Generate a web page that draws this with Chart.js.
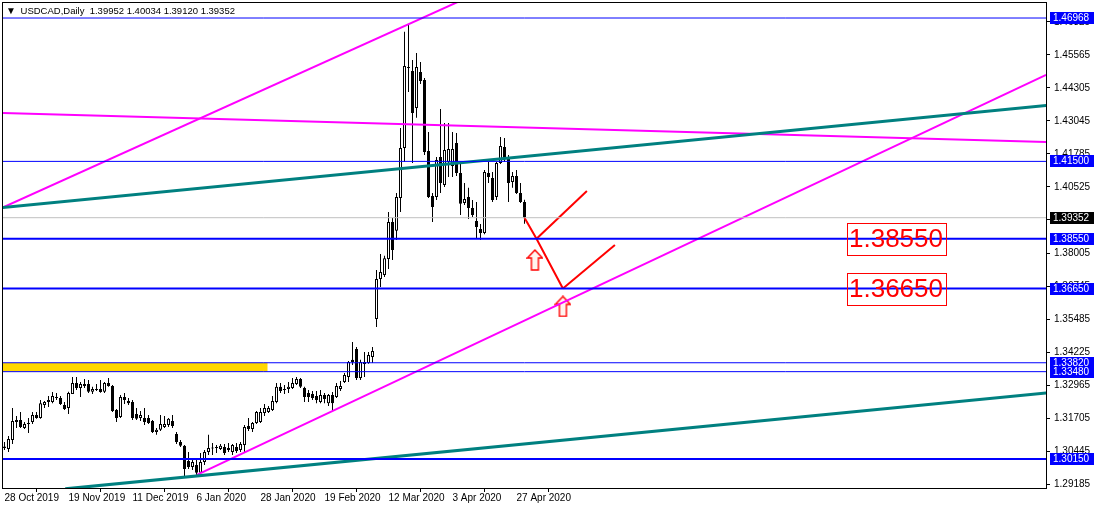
<!DOCTYPE html>
<html>
<head>
<meta charset="utf-8">
<title>USDCAD Daily</title>
<script src="https://cdn.jsdelivr.net/npm/chart.js@4.4.1/dist/chart.umd.min.js"></script>
<style>
  html, body { margin: 0; padding: 0; background: #fff; }
  #wrap { position: relative; width: 1094px; height: 508px; }
  #title { position: absolute; left: 6px; top: 5px; font: 9.5px "Liberation Sans", Arial, sans-serif; color: #000; white-space: pre; }
  #title b { font-weight: normal; font-size: 10px; margin-right: 2px; }
</style>
</head>
<body>
<div id="wrap">
  <canvas id="chart" width="1094" height="508"></canvas>
  <div id="title"><b>▼</b> USDCAD,Daily  1.39952 1.40034 1.39120 1.39352</div>
</div>
<script>
// daily candles, 28 Oct 2019 .. 29 Apr 2020 (bar index 0..130)
const opens = [
  1.3063,1.3053,1.3087,1.3164,1.3164,1.3133,1.3148,1.3156,1.3183,1.3171,
  1.3221,1.3232,1.3232,1.3251,1.3248,1.3221,1.3209,1.3263,1.3305,1.3286,
  1.3301,1.3301,1.3271,1.3282,1.3282,1.3271,1.3305,1.3293,1.3202,1.3175,
  1.3251,1.3236,1.3232,1.3187,1.3171,1.3171,1.3171,1.3160,1.3118,1.3126,
  1.3137,1.3145,1.3160,1.3110,1.3080,1.3065,1.3007,1.2984,1.2992,1.2962,
  1.3003,1.3042,1.3055,1.3057,1.3053,1.3061,1.3057,1.3042,1.3061,1.3049,
  1.3068,1.3141,1.3129,1.3152,1.3156,1.3190,1.3194,1.3202,1.3232,1.3290,
  1.3278,1.3282,1.3286,1.3301,1.3320,1.3286,1.3267,1.3263,1.3255,1.3232,
  1.3259,1.3228,1.3259,1.3251,1.3282,1.3309,1.3328,1.3393,1.3434,1.3324,
  1.3377,1.3381,1.3404,1.3549,1.3701,1.3717,1.3778,1.3919,1.3885,1.4010,
  1.4201,1.4510,1.4495,1.4354,1.4491,1.4460,1.4190,1.4018,1.4014,1.4167,
  1.4060,1.4148,1.4132,1.4220,1.4106,1.3991,1.4014,1.3972,1.3923,1.3892,
  1.3877,1.4106,1.4087,1.4014,1.4144,1.4205,1.4159,1.4071,1.4094,1.4029,
  1.39952
];
const highs = [
  1.3080,1.3103,1.3209,1.3179,1.3194,1.3156,1.3171,1.3194,1.3194,1.3240,
  1.3236,1.3255,1.3270,1.3267,1.3255,1.3232,1.3271,1.3328,1.3328,1.3309,
  1.3320,1.3316,1.3290,1.3301,1.3316,1.3309,1.3324,1.3297,1.3206,1.3259,
  1.3267,1.3248,1.3240,1.3209,1.3198,1.3209,1.3183,1.3164,1.3133,1.3183,
  1.3179,1.3171,1.3183,1.3118,1.3087,1.3068,1.3042,1.3011,1.3011,1.3038,
  1.3049,1.3107,1.3076,1.3068,1.3072,1.3072,1.3076,1.3072,1.3076,1.3080,
  1.3145,1.3171,1.3156,1.3198,1.3209,1.3225,1.3217,1.3255,1.3305,1.3305,
  1.3297,1.3309,1.3324,1.3328,1.3324,1.3290,1.3278,1.3274,1.3274,1.3278,
  1.3267,1.3263,1.3270,1.3305,1.3312,1.3343,1.3389,1.3461,1.3442,1.3393,
  1.3423,1.3423,1.3442,1.3736,1.3797,1.3790,1.3957,1.3934,1.4029,1.4277,
  1.4644,1.4670,1.4537,1.4563,1.4529,1.4468,1.4262,1.4029,1.4167,1.4350,
  1.4296,1.4296,1.4262,1.4258,1.4144,1.4068,1.4049,1.4003,1.3995,1.3911,
  1.4117,1.4148,1.4110,1.4148,1.4243,1.4239,1.4174,1.4110,1.4117,1.4068,
  1.40034
];
const lows = [
  1.3049,1.3042,1.3072,1.3133,1.3133,1.3129,1.3114,1.3148,1.3168,1.3168,
  1.3209,1.3213,1.3228,1.3240,1.3221,1.3202,1.3187,1.3263,1.3278,1.3251,
  1.3286,1.3267,1.3263,1.3274,1.3268,1.3267,1.3290,1.3194,1.3156,1.3171,
  1.3225,1.3221,1.3164,1.3164,1.3160,1.3145,1.3148,1.3114,1.3107,1.3122,
  1.3133,1.3137,1.3133,1.3072,1.3061,1.2950,1.2977,1.2973,1.2954,1.2958,
  1.2992,1.3030,1.3030,1.3038,1.3049,1.3030,1.3042,1.3030,1.3038,1.3042,
  1.3038,1.3122,1.3118,1.3148,1.3152,1.3179,1.3190,1.3198,1.3228,1.3267,
  1.3263,1.3267,1.3282,1.3297,1.3286,1.3232,1.3232,1.3240,1.3228,1.3228,
  1.3228,1.3217,1.3198,1.3248,1.3274,1.3305,1.3309,1.3373,1.3316,1.3316,
  1.3328,1.3378,1.3381,1.3518,1.3671,1.3709,1.3740,1.3774,1.3850,1.3957,
  1.4148,1.4415,1.4144,1.4316,1.4445,1.4174,1.4010,1.3919,1.4003,1.4029,
  1.4052,1.4090,1.4090,1.4094,1.3946,1.3984,1.3930,1.3938,1.3854,1.3850,
  1.3872,1.4068,1.3995,1.4003,1.4140,1.4148,1.3995,1.4049,1.4026,1.3991,
  1.39120
];
const closes = [
  1.3057,1.3091,1.3160,1.3156,1.3137,1.3148,1.3152,1.3183,1.3171,1.3228,
  1.3232,1.3240,1.3255,1.3248,1.3225,1.3206,1.3267,1.3305,1.3286,1.3301,
  1.3293,1.3271,1.3282,1.3278,1.3270,1.3305,1.3293,1.3198,1.3171,1.3251,
  1.3240,1.3228,1.3171,1.3168,1.3183,1.3156,1.3152,1.3118,1.3126,1.3148,
  1.3148,1.3168,1.3141,1.3080,1.3065,1.2977,1.2984,1.3003,1.2962,1.3003,
  1.3042,1.3057,1.3058,1.3060,1.3065,1.3038,1.3049,1.3068,1.3045,1.3072,
  1.3137,1.3129,1.3152,1.3194,1.3194,1.3209,1.3209,1.3236,1.3290,1.3274,
  1.3282,1.3290,1.3305,1.3320,1.3290,1.3251,1.3251,1.3248,1.3240,1.3259,
  1.3244,1.3259,1.3228,1.3293,1.3293,1.3335,1.3385,1.3385,1.3324,1.3385,
  1.3385,1.3412,1.3427,1.3701,1.3728,1.3781,1.3919,1.3812,1.4014,1.4201,
  1.4514,1.4506,1.4335,1.4510,1.4457,1.4186,1.4014,1.3976,1.4155,1.4068,
  1.4193,1.4197,1.4197,1.4106,1.3988,1.4007,1.3972,1.3946,1.3900,1.3877,
  1.4110,1.4090,1.4003,1.4144,1.4209,1.4159,1.4068,1.4094,1.4029,1.3995,
  1.39352
];

const dateLabels = ['28 Oct 2019','19 Nov 2019','11 Dec 2019','6 Jan 2020','28 Jan 2020',
                    '19 Feb 2020','12 Mar 2020','3 Apr 2020','27 Apr 2020'];
const dateBars = [0, 16, 32, 48, 64, 80, 96, 112, 128];

const priceTicks = [1.46825,1.45565,1.44305,1.43045,1.41785,1.40525,1.39265,1.38005,
                    1.36745,1.35485,1.34225,1.32965,1.31705,1.30445,1.29185];

// horizontal levels
const levels = [1.46968, 1.41500, 1.38550, 1.36650, 1.33820, 1.33480, 1.30150];
const thickLevels = [1.38550, 1.36650, 1.30150];
const bigLabelLevels = [1.38550, 1.36650];
const lastPrice = 1.39352;

// supply zone (bars, prices)
const zoneBars = [-1, 65.75];
const zonePrices = [1.33480, 1.33820];

// trend lines: [bar1, price1, bar2, price2]
const magentaLines = [
  [-0.6, 1.3973, 130, 1.4873],
  [48.1, 1.2954, 260.4, 1.4480],
  [-0.6, 1.4335, 260.4, 1.4224]
];
const tealLines = [
  [-0.6, 1.3974, 260.4, 1.4363],
  [15.2, 1.2901, 260.4, 1.3267]
];
// projected path
const projBars = [130, 133, 139.6];
const projPrices = [1.39352, 1.38550, 1.36650];
const branchLines = [
  [133, 1.38550, 145.6, 1.4037],
  [139.6, 1.36650, 152.6, 1.3831]
];
const arrowBars = [132.6, 139.6];
const arrowPrices = [1.3774, 1.3597];

// chart frame
const xMin = -0.375, xMax = 260.375;
const yMin = 1.29043, yMax = 1.47541;
const FONT = '"Liberation Sans", Arial, sans-serif';

function seg(l) { return [{x: l[0], y: l[1]}, {x: l[2], y: l[3]}]; }
function lineDs(data, color, width) {
  return { type: 'line', data, borderColor: color, borderWidth: width, pointRadius: 0,
           fill: false, tension: 0, order: 0 };
}

// up arrow marker
const arrowImg = document.createElement('canvas');
arrowImg.width = 17; arrowImg.height = 22;
(function () {
  const c = arrowImg.getContext('2d');
  c.beginPath();
  c.moveTo(8.5, 1); c.lineTo(16, 9); c.lineTo(12, 9); c.lineTo(12, 21);
  c.lineTo(5, 21); c.lineTo(5, 9); c.lineTo(1, 9); c.closePath();
  c.fillStyle = '#fff4f0'; c.fill();
  c.strokeStyle = '#ff0000'; c.lineWidth = 1.4; c.stroke();
})();

const idx = closes.map((_, i) => i);
const isUp = i => closes[i] >= opens[i];

const datasets = [
  { type: 'bar', data: idx.map(i => ({x: i, y: [lows[i], highs[i]]})),
    backgroundColor: '#000', barThickness: 1, grouped: false, inflateAmount: 0, order: 3 },
  { type: 'bar', data: idx.map(i => ({x: i, y: [opens[i], closes[i]]})),
    backgroundColor: c => isUp(c.dataIndex) ? '#fff' : '#000',
    borderColor: '#000', borderWidth: 1, borderSkipped: false, minBarLength: 1,
    barThickness: 3, grouped: false, inflateAmount: 0, order: 2 }
];
datasets.push(lineDs([{x: xMin, y: lastPrice}, {x: xMax, y: lastPrice}], '#c0c0c0', 1));
levels.forEach(v => datasets.push(lineDs([{x: xMin, y: v}, {x: xMax, y: v}], '#0000ff',
  thickLevels.includes(v) ? 2 : 1)));
tealLines.forEach(l => datasets.push(lineDs(seg(l), '#008080', 3)));
magentaLines.forEach(l => datasets.push(lineDs(seg(l), '#ff00ff', 2)));
datasets.push(lineDs(projBars.map((b, i) => ({x: b, y: projPrices[i]})), '#ff0000', 2));
branchLines.forEach(l => datasets.push(lineDs(seg(l), '#ff0000', 2)));
datasets.push({ type: 'line', data: arrowBars.map((b, i) => ({x: b, y: arrowPrices[i]})),
  showLine: false, pointStyle: arrowImg, pointRadius: 10, order: 0 });

const overlay = {
  id: 'overlay',
  beforeDatasetsDraw(chart) {
    const {ctx, chartArea: a, scales: {x, y}} = chart;
    ctx.save();
    ctx.beginPath(); ctx.rect(a.left, a.top, a.width, a.height); ctx.clip();
    const x0 = x.getPixelForValue(zoneBars[0]), x1 = x.getPixelForValue(zoneBars[1]);
    const y0 = y.getPixelForValue(zonePrices[1]), y1 = y.getPixelForValue(zonePrices[0]);
    ctx.fillStyle = '#ffd700';
    ctx.fillRect(x0, y0, x1 - x0, y1 - y0);
    ctx.restore();
  },
  afterDraw(chart) {
    const {ctx, chartArea: a, scales: {x, y}} = chart;
    ctx.save();
    // frame
    ctx.strokeStyle = '#000'; ctx.lineWidth = 1;
    ctx.strokeRect(a.left - 0.5, a.top - 0.5, a.width + 1, a.height + 1);

    // big red level labels
    ctx.font = '26px ' + FONT;
    ctx.textBaseline = 'middle';
    bigLabelLevels.forEach(v => {
      const t = v.toFixed(5);
      const w = Math.round(ctx.measureText(t).width);
      const left = Math.round(x.getPixelForValue(210.6));
      const cy = Math.round(y.getPixelForValue(v));
      ctx.fillStyle = '#ff0000';
      ctx.fillText(t, left + 2, cy + 1);
      ctx.strokeStyle = '#ff0000';
      ctx.lineWidth = 1;
      ctx.strokeRect(left + 0.5, cy - 16 + 0.5, w + 5, 32);
    });

    // price boxes on the axis
    ctx.font = '10px ' + FONT;
    const boxes = levels.map(v => [v, '#0000ff']).concat([[lastPrice, '#000']]);
    boxes.forEach(([v, bg]) => {
      const cy = Math.round(y.getPixelForValue(v));
      ctx.fillStyle = bg;
      ctx.fillRect(y.left + 4, cy - 6, y.right - y.left - 4, 12);
      ctx.fillStyle = '#fff';
      ctx.fillText(v.toFixed(5), y.left + 7, cy + 0.5);
    });
    ctx.restore();
  }
};

new Chart(document.getElementById('chart'), {
  type: 'bar',
  data: { datasets },
  plugins: [overlay],
  options: {
    responsive: false,
    animation: false,
    events: [],
    layout: { autoPadding: false, padding: { left: 3, top: 3, right: 0, bottom: 0 } },
    plugins: { legend: { display: false }, tooltip: { enabled: false } },
    scales: {
      x: {
        type: 'linear', min: xMin, max: xMax, offset: false,
        afterBuildTicks: s => { s.ticks = dateBars.map(v => ({value: v})); },
        afterFit: s => { s.height = 20; s.paddingLeft = 0; s.paddingRight = 0; },
        ticks: { autoSkip: false, maxRotation: 0, align: 'start', padding: 0, color: '#000',
                 font: { family: FONT, size: 10 },
                 callback: (v, i) => dateLabels[i] },
        grid: { drawOnChartArea: false, tickLength: 4, color: '#000' },
        border: { display: false }
      },
      y: {
        type: 'linear', position: 'right', min: yMin, max: yMax,
        afterBuildTicks: s => { s.ticks = priceTicks.map(v => ({value: v})); },
        afterFit: s => { s.width = 48; s.paddingTop = 0; s.paddingBottom = 0; },
        ticks: { autoSkip: false, padding: 4, color: '#000',
                 font: { family: FONT, size: 10 },
                 callback: v => v.toFixed(5) },
        grid: { drawOnChartArea: false, tickLength: 4, color: '#000' },
        border: { display: false }
      }
    }
  }
});
</script>
</body>
</html>
